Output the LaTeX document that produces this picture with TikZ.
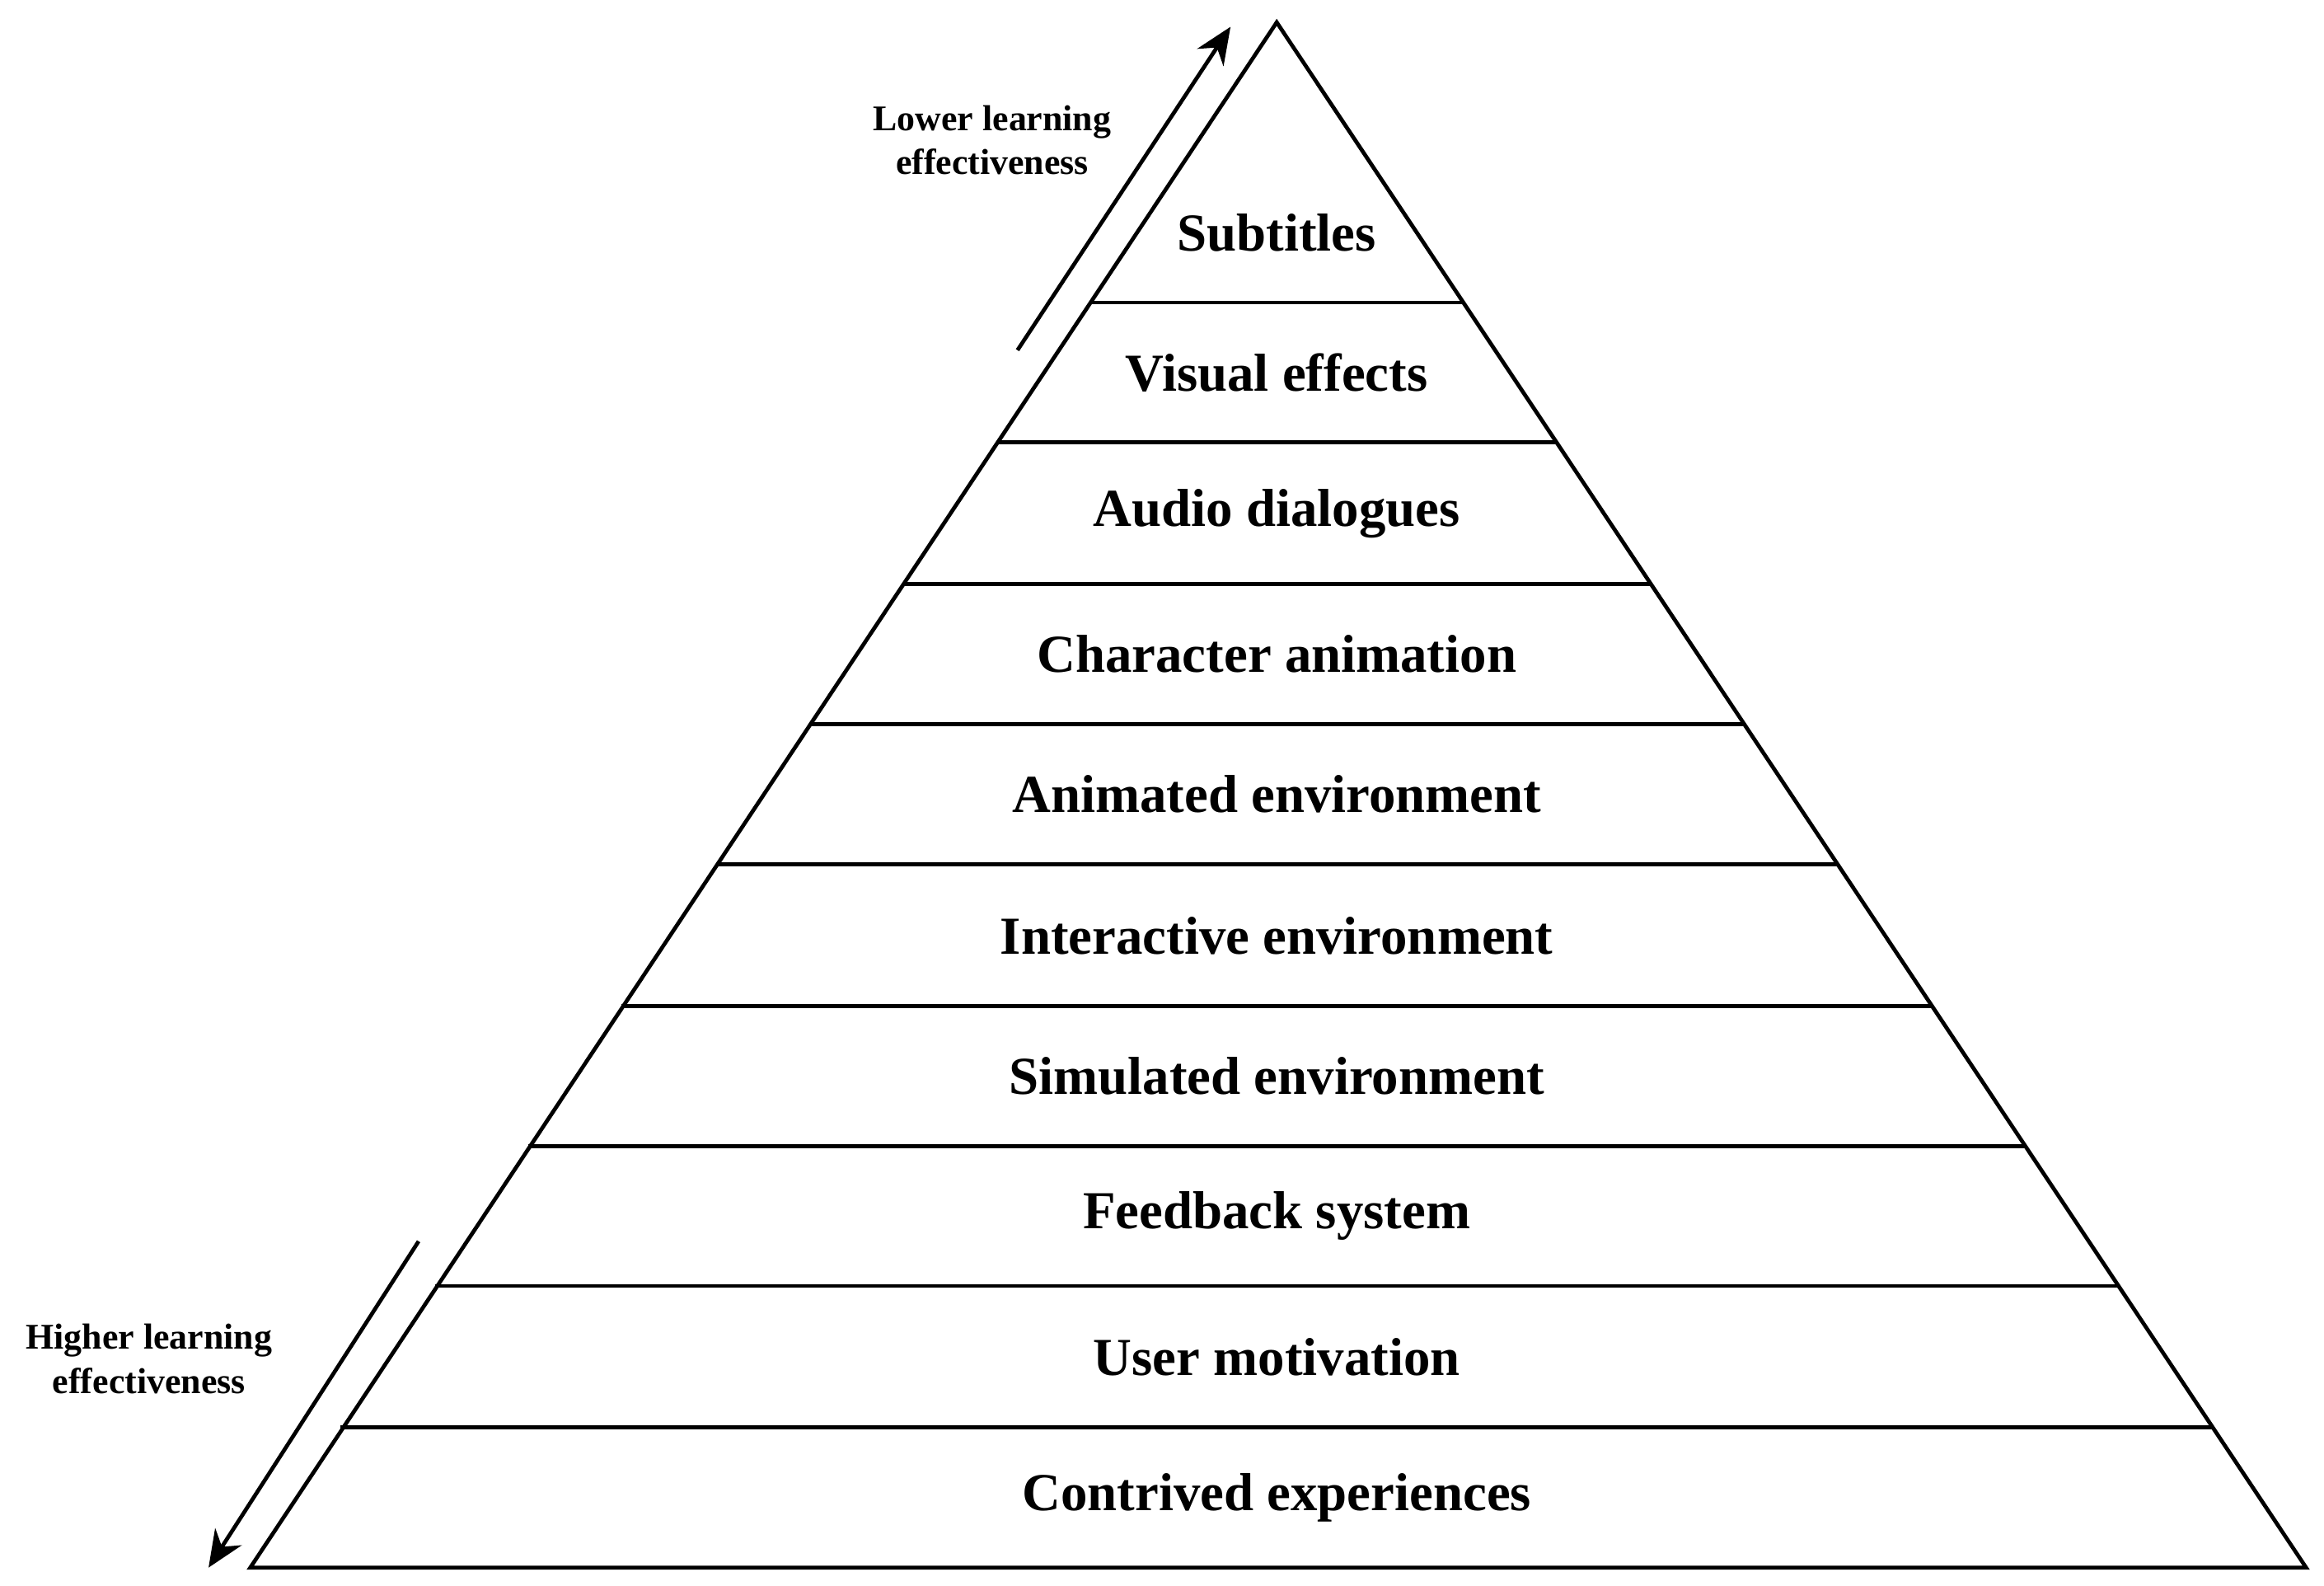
\documentclass[tikz,border=0pt]{standalone}
\usepackage{fontspec}
\setmainfont{Liberation Serif}
\usetikzlibrary{arrows.meta}
\begin{document}
\begin{tikzpicture}[x=0.01cm,y=-0.01cm,line width=0.75pt,
  lay/.style={font=\bfseries\fontsize{10.2}{12}\selectfont},
  side/.style={font=\bfseries\fontsize{6.9}{8.4}\selectfont,align=center},
  arr/.style={-{Stealth[length=7pt,width=6pt]},line width=0.75pt}]
\useasboundingbox (0,0) rectangle (1560,1064);
\coordinate (apex) at (857,15);
\coordinate (bl) at (168,1052);
\coordinate (br) at (1548,1052);
\draw[line join=miter] (apex) -- (br) -- (bl) -- cycle;
\foreach \y in {203,297,392,486,580,675,769,863,958}{
  \pgfmathsetmacro\w{(\y-15)*0.6663}
  \draw (857-\w,\y) -- (857+\w,\y);
}
\node[lay] (l1) at (857,156) {Subtitles};
\node[lay] (l2) at (857,250) {Visual effects};
\node[lay] (l3) at (857,345) {Audio dialogues};
\node[lay] (l4) at (857,439) {Character animation};
\node[lay] (l5) at (857,533) {Animated environment};
\node[lay] (l6) at (857,628) {Interactive environment};
\node[lay] (l7) at (857,722) {Simulated environment};
\node[lay] (l8) at (857,816) {Feedback system};
\node[lay] (l9) at (857,911) {User motivation};
\node[lay] (l10) at (857,1005) {Contrived experiences};
\node[side] (top) at (666,94) {Lower learning\\effectiveness};
\node[side] (bot) at (100,912) {Higher learning\\effectiveness};
\coordinate (a1s) at (683,235);
\coordinate (a1e) at (826,18);
\coordinate (a2s) at (281,833);
\coordinate (a2e) at (140,1052);
\draw[arr] (a1s) -- (a1e);
\draw[arr] (a2s) -- (a2e);
\end{tikzpicture}
\end{document}
